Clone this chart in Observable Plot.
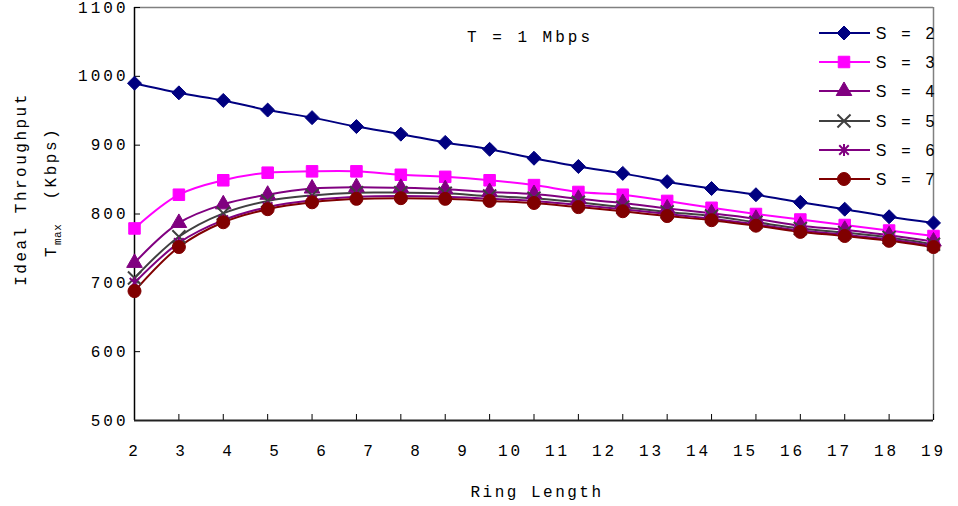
<!DOCTYPE html>
<html><head><meta charset="utf-8">
<script src="https://cdn.jsdelivr.net/npm/d3@7"></script>
<script src="https://cdn.jsdelivr.net/npm/@observablehq/plot@0.6"></script>
<style>
body{margin:0;background:#fff;}
#chart{width:958px;height:506px;}
</style></head><body><div id="chart"></div>
<script>
// Tick labels on the category axis (as printed in the reference: 18 labels spread across 19 points)
const xTickLabels = ["2","3","4","5","6","7","8","9","10","11","12","13","14","15","16","17","18","19"];
const yTicks = [500, 600, 700, 800, 900, 1000, 1100];
const seriesNames = ["S = 2", "S = 3", "S = 4", "S = 5", "S = 6", "S = 7"];

const s2 = [990, 976, 965, 951, 940, 927, 916, 904, 894, 881, 869, 859, 847, 837, 828, 817, 807, 796, 787];
const s3 = [779, 828, 849, 860, 862, 862, 857, 854, 849, 842, 832, 828, 819, 809, 800, 792, 784, 776, 768];
const s4 = [729, 787, 814, 828, 837, 839, 838, 836, 832, 829, 822, 816, 808, 801, 793, 783, 777, 769, 760];
const s5 = [707, 767, 801, 819, 827, 831, 831, 830, 826, 823, 817, 810, 803, 797, 788, 779, 773, 766, 756];
const s6 = [700, 758, 791, 810, 820, 825, 826, 825, 822, 819, 813, 807, 800, 793, 785, 776, 770, 763, 754];
const s7 = [688, 752, 788, 807, 817, 822, 823, 822, 819, 816, 810, 804, 797, 791, 783, 774, 768, 761, 752];

const seriesValues = [s2, s3, s4, s5, s6, s7];
const colors = ["#000080", "#FF00FF", "#800080", "#404040", "#800080", "#800000"];

// Excel-style "star": an X with a vertical bar
const starSymbol = {
  draw(context, size) {
    const r = Math.sqrt(size) * 0.56;
    const d = r * 0.8;
    context.moveTo(-d, -d); context.lineTo(d, d);
    context.moveTo(d, -d); context.lineTo(-d, d);
    context.moveTo(0, -r); context.lineTo(0, r);
  }
};
const symbols = ["diamond2", "square", "triangle", "times", starSymbol, "circle"];
const d3Symbols = [d3.symbolDiamond2, d3.symbolSquare, d3.symbolTriangle, d3.symbolTimes, starSymbol, d3.symbolCircle];
const radii = [6.3, 6.5, 5.8, 6, 6, 6.5];
const filled = [true, true, true, false, false, true];

const pointIdx = s2.map((_, i) => i);
const nLast = pointIdx.length - 1;

const mono = "'Courier New', Courier, 'Nimbus Mono PS', 'Nimbus Mono L', FreeMono, 'Liberation Mono', monospace";
const sans = "'Liberation Sans', Arial, sans-serif";

const marks = [
  Plot.ruleY([1100], {stroke: "#808080", strokeWidth: 1.5}),
  Plot.ruleX([nLast], {stroke: "#808080", strokeWidth: 1.5}),
  Plot.tickY(yTicks, {y: d => d, stroke: "#000", insetRight: 799 - 6}),
  Plot.tickX(pointIdx, {x: d => d, stroke: "#000", insetTop: 413 - 6}),
  Plot.ruleX([0], {stroke: "#000", strokeWidth: 1.5}),
  Plot.ruleY([500], {stroke: "#222", strokeWidth: 2}),
  Plot.axisY({ticks: yTicks, tickSize: 0, tickPadding: 6, label: null, tickFormat: d => String(d), fontSize: 16, fill: "#000"})
];

seriesValues.forEach((vals, k) => {
  const rows = vals.map((v, i) => ({i, v}));
  marks.push(Plot.line(rows, {x: "i", y: "v", stroke: colors[k], strokeWidth: 2, curve: "catmull-rom"}));
});
seriesValues.forEach((vals, k) => {
  const rows = vals.map((v, i) => ({i, v}));
  marks.push(Plot.dot(rows, {
    x: "i", y: "v", symbol: symbols[k], r: radii[k],
    fill: filled[k] ? colors[k] : "none",
    stroke: colors[k], strokeWidth: filled[k] ? 1 : 2
  }));
});

marks.push(Plot.text(xTickLabels, {
  x: (d, i) => i * nLast / (xTickLabels.length - 1), y: () => 500,
  text: d => d, dy: 30, fontSize: 16, fill: "#000", textAnchor: "middle"
}));

const plot = Plot.plot({
  width: 958, height: 506,
  marginLeft: 134, marginRight: 25, marginTop: 7, marginBottom: 86,
  x: {domain: [0, nLast], axis: null},
  y: {domain: [500, 1100], axis: null},
  style: {fontFamily: mono, fontSize: "16px", letterSpacing: "3px", color: "#000", background: "#fff"},
  marks
});
document.getElementById("chart").appendChild(plot);

const svg = d3.select(plot);

// Title
svg.append("text").attr("x", 530).attr("y", 36).attr("dy", "0.35em")
  .attr("text-anchor", "middle")
  .attr("font-family", mono).attr("font-size", 16).attr("letter-spacing", "3px")
  .style("white-space", "pre")
  .text("T = 1 Mbps");

// X axis title
svg.append("text").attr("x", 537).attr("y", 491).attr("dy", "0.35em")
  .attr("text-anchor", "middle")
  .attr("font-family", mono).attr("font-size", 16).attr("letter-spacing", "2.5px")
  .text("Ring Length");

// Y axis title (two lines)
svg.append("text").attr("transform", "translate(20,189) rotate(-90)").attr("dy", "0.35em")
  .attr("text-anchor", "middle")
  .attr("font-family", mono).attr("font-size", 16).attr("letter-spacing", "2.5px")
  .text("Ideal Throughput");
const t2 = svg.append("text").attr("transform", "translate(50,192) rotate(-90)").attr("dy", "0.35em")
  .attr("text-anchor", "middle").style("white-space", "pre")
  .attr("font-family", mono).attr("font-size", 16).attr("letter-spacing", "2.5px");
t2.append("tspan").text("T");
t2.append("tspan").attr("dy", 5).attr("font-size", 11).attr("letter-spacing", "0.5px").text("max");
t2.append("tspan").attr("dy", -5).text("  (Kbps)");

// Legend
const legendY = [33, 62, 91, 121, 150, 179];
seriesNames.forEach((name, k) => {
  const g = svg.append("g").attr("transform", `translate(0,${legendY[k]})`);
  g.append("line").attr("x1", 819).attr("x2", 870).attr("y1", 0).attr("y2", 0)
    .attr("stroke", colors[k]).attr("stroke-width", 2);
  g.append("path").attr("transform", "translate(844,0)")
    .attr("d", d3.symbol(d3Symbols[k], Math.PI * radii[k] * radii[k])())
    .attr("fill", filled[k] ? colors[k] : "none")
    .attr("stroke", colors[k]).attr("stroke-width", filled[k] ? 1 : 2);
  const parts = name.split(" ");
  const px = [881, 906, 930];
  parts.forEach((p, j) => {
    g.append("text").attr("x", px[j]).attr("y", 0).attr("dy", "0.35em")
      .attr("text-anchor", "middle").attr("font-family", sans).attr("font-size", 16)
      .attr("letter-spacing", "0px").attr("fill", "#000").text(p);
  });
});
</script></body></html>
